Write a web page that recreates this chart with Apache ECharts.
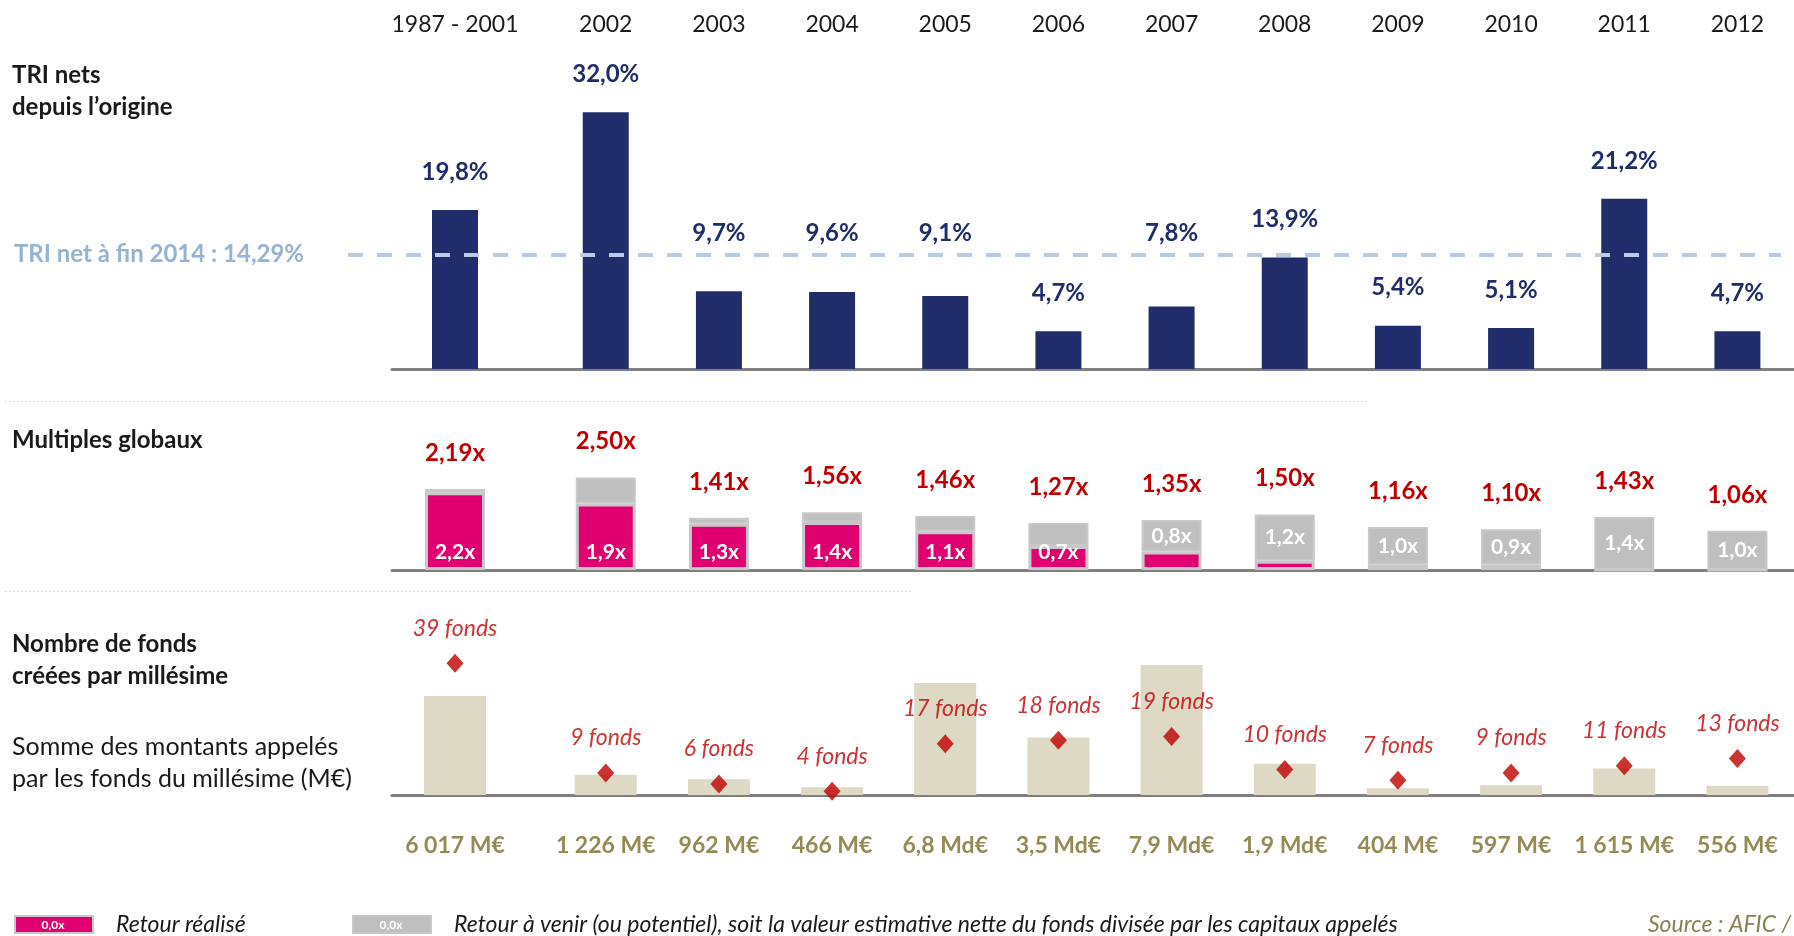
<!DOCTYPE html>
<html>
<head>
<meta charset="utf-8">
<script src="https://cdn.jsdelivr.net/npm/echarts@6/dist/echarts.min.js"></script>
<style>
  html, body { margin: 0; padding: 0; background: #fff; }
  #chart { width: 1794px; height: 936px; }
</style>
</head>
<body>
<div id="chart"></div>
<script>
// données
const millesimes = ['1987 - 2001', '2002', '2003', '2004', '2005', '2006', '2007', '2008', '2009', '2010', '2011', '2012'];
const triNets = [19.8, 32.0, 9.7, 9.6, 9.1, 4.7, 7.8, 13.9, 5.4, 5.1, 21.2, 4.7];
const triNetFin2014 = 14.29;
const multiplesGlobaux = [2.19, 2.50, 1.41, 1.56, 1.46, 1.27, 1.35, 1.50, 1.16, 1.10, 1.43, 1.06];
const retourRealise = [2.10, 1.80, 1.25, 1.30, 1.05, 0.65, 0.50, 0.25, 0.15, 0.15, 0, 0];
const retourAVenir = [0.09, 0.70, 0.16, 0.26, 0.41, 0.62, 0.85, 1.25, 1.01, 0.95, 1.43, 1.06];
const labelsRealise = ['2,2x', '1,9x', '1,3x', '1,4x', '1,1x', '0,7x', '', '', '', '', '', ''];
const labelsAVenir = ['', '', '', '', '', '', '0,8x', '1,2x', '1,0x', '0,9x', '1,4x', '1,0x'];
const nbFonds = [39, 9, 6, 4, 17, 18, 19, 10, 7, 9, 11, 13];
const montants = [6017, 1226, 962, 466, 6800, 3500, 7900, 1900, 404, 597, 1615, 556];
const montantsLabels = ['6 017 M€', '1 226 M€', '962 M€', '466 M€', '6,8 Md€', '3,5 Md€', '7,9 Md€', '1,9 Md€', '404 M€', '597 M€', '1 615 M€', '556 M€'];

const FONT = 'Lato';
const NAVY = '#212d6b';
const RED = '#c00000';
const PINK = '#e1006f';
const GREY = '#bfbfbf';
const BEIGE = '#ddd9c4';
const OLIVE = '#948a54';
const AXIS = '#808080';

// bandes verticales
const row1 = { top: 48, h: 321, max: 40 };
const row2 = { top: 422, h: 148, max: 4 };
const row3 = { top: 630.4, h: 164.6, max: 10000, fMin: 3, fMax: 48 };
// colonne 1987-2001 (A) et colonnes 2002-2012 (B)
const colA = { left: 392, width: 126 };
const colB = { left: 436, width: 1368 };

const catsA = [millesimes[0]];
const catsB = [''].concat(millesimes.slice(1));
function part(arr, p) {
  return p === 0 ? [arr[0]] : [null].concat(arr.slice(1));
}
const fr = (v, d) => v.toFixed(d).replace('.', ',');

let chart = echarts.init(document.getElementById('chart'));

let grids = [], xAxes = [], yAxes = [], series = [];
[row1, row2, row3].forEach(function (r) {
  [colA, colB].forEach(function (c) {
    grids.push({ left: c.left, width: c.width, top: r.top, height: r.h });
  });
});
// grille pour la ligne pointillée
grids.push({ left: 348, width: 1433, top: row1.top, height: row1.h });

function catAxis(gi, p, extra) {
  return Object.assign({
    type: 'category', gridIndex: gi, data: p === 0 ? catsA : catsB,
    axisLine: { show: true, lineStyle: { color: AXIS, width: 3 } },
    axisTick: { show: false }, axisLabel: { show: false }, splitLine: { show: false }
  }, extra || {});
}
const yearLabel = { show: true, interval: 0, margin: 12, fontFamily: FONT, fontSize: 23, color: '#1a1a1a' };
xAxes.push(catAxis(0, 0), catAxis(1, 1));
xAxes.push(catAxis(0, 0, { position: 'top', axisLine: { show: false }, axisLabel: yearLabel }));
xAxes.push(catAxis(1, 1, { position: 'top', axisLine: { show: false }, axisLabel: yearLabel }));
xAxes.push(catAxis(2, 0), catAxis(3, 1), catAxis(4, 0), catAxis(5, 1));
xAxes.push({ type: 'value', gridIndex: 6, min: 0, max: 1, show: false });

function valAxis(gi, min, max) {
  return { type: 'value', gridIndex: gi, min: min, max: max, show: false };
}
yAxes.push(valAxis(0, 0, row1.max), valAxis(1, 0, row1.max));
yAxes.push(valAxis(2, 0, row2.max), valAxis(3, 0, row2.max));
yAxes.push(valAxis(4, 0, row3.max), valAxis(5, 0, row3.max));
yAxes.push(valAxis(4, row3.fMin, row3.fMax), valAxis(5, row3.fMin, row3.fMax));
yAxes.push(valAxis(6, 0, row1.max));

// les étiquettes qui tomberaient sur la ligne pointillée passent au-dessus
const ppu1 = row1.h / row1.max;
function triItem(v) {
  if (v == null) return null;
  let dist = 26;
  let centre = v + (dist + 12) / ppu1;
  if (Math.abs(centre - triNetFin2014) < 2) {
    dist = (triNetFin2014 - v) * ppu1 + 21 - 12;
  }
  return { value: v, label: { distance: dist } };
}

[0, 1].forEach(function (p) {
  // TRI nets
  series.push({
    type: 'bar', xAxisIndex: p, yAxisIndex: p, barWidth: 46,
    data: part(triNets, p).map(triItem),
    itemStyle: { color: NAVY },
    label: { show: true, position: 'top', fontFamily: FONT, fontWeight: 'bold', fontSize: 24, color: NAVY,
      formatter: (d) => fr(d.value, 1) + '%' }
  });
  // multiples : retour réalisé
  series.push({
    name: 'Retour réalisé',
    type: 'bar', xAxisIndex: 4 + p, yAxisIndex: 2 + p, stack: 'm' + p, barWidth: 60,
    data: part(retourRealise, p),
    itemStyle: { color: PINK, borderColor: '#c8c8c8', borderWidth: 3 },
    label: { show: true, position: 'insideBottom', distance: 7, fontFamily: FONT, fontWeight: 'bold',
      fontSize: 21, color: '#fff', formatter: (d) => labelsRealise[d.dataIndex] }
  });
  // multiples : retour à venir
  series.push({
    name: 'Retour à venir (ou potentiel), soit la valeur estimative nette du fonds divisée par les capitaux appelés',
    type: 'bar', xAxisIndex: 4 + p, yAxisIndex: 2 + p, stack: 'm' + p, barWidth: 60,
    data: part(retourAVenir, p),
    itemStyle: { color: GREY, borderColor: '#c8c8c8', borderWidth: 2 },
    label: { show: true, position: 'inside', fontFamily: FONT, fontWeight: 'bold',
      fontSize: 21, color: '#fff', formatter: (d) => labelsAVenir[d.dataIndex] }
  });
  // total des multiples (étiquette au sommet de la pile)
  series.push({
    type: 'bar', xAxisIndex: 4 + p, yAxisIndex: 2 + p, stack: 'm' + p, barWidth: 60,
    data: part(multiplesGlobaux, p).map((v) => (v == null ? null : 0)),
    itemStyle: { color: 'transparent' },
    label: { show: true, position: 'top', distance: 24, fontFamily: FONT, fontWeight: 'bold',
      fontSize: 24, color: RED, formatter: (d) => fr(multiplesGlobaux[d.dataIndex], 2) + 'x' }
  });
  // montants appelés
  series.push({
    type: 'bar', xAxisIndex: 6 + p, yAxisIndex: 4 + p, barWidth: 62,
    data: part(montants, p),
    itemStyle: { color: BEIGE },
    label: { show: true, position: 'bottom', distance: 39, fontFamily: FONT, fontWeight: 'bold',
      fontSize: 23, color: OLIVE, formatter: (d) => montantsLabels[d.dataIndex] }
  });
  // nombre de fonds
  series.push({
    type: 'scatter', xAxisIndex: 6 + p, yAxisIndex: 6 + p, z: 5,
    symbol: 'diamond', symbolSize: [17, 19],
    data: part(nbFonds, p),
    itemStyle: { color: RED },
    label: { show: true, position: 'top', distance: 14, fontFamily: FONT, fontStyle: 'italic',
      fontSize: 23, color: RED, formatter: (d) => d.value + ' fonds' }
  });
});

// TRI net à fin 2014
series.push({
  type: 'line', xAxisIndex: 8, yAxisIndex: 8, z: 10, data: [],
  markLine: {
    silent: true, symbol: 'none',
    lineStyle: { color: '#b8cce4', width: 4, type: [15, 14] },
    label: { position: 'start', distance: 44, fontFamily: FONT, fontWeight: 'bold', fontSize: 24, color: '#95b3d7',
      formatter: (d) => 'TRI net à fin 2014 : ' + fr(d.value, 2) + '%' },
    data: [{ yAxis: triNetFin2014 }]
  }
});

const titleStyle = { fontFamily: FONT, fontWeight: 'bold', fontSize: 24, color: '#1a1a1a', lineHeight: 32 };
const legendBase = {
  top: 913, padding: 0, icon: 'rect', itemWidth: 78, itemHeight: 17,
  itemStyle: { borderColor: '#c8c8c8', borderWidth: 2 },
  textStyle: { fontFamily: FONT, fontStyle: 'italic', fontSize: 23, color: '#1a1a1a', padding: [0, 0, 0, 18] }
};

let option = {
  animation: false,
  title: [
    { text: 'TRI nets\ndepuis l’origine', left: 7, top: 54, textStyle: titleStyle },
    { text: 'Multiples globaux', left: 7, top: 419, textStyle: titleStyle },
    { text: 'Nombre de fonds\ncréées par millésime', left: 7, top: 623, textStyle: titleStyle },
    { text: 'Somme des montants appelés\npar les fonds du millésime (M€)', left: 7, top: 726,
      textStyle: Object.assign({}, titleStyle, { fontWeight: 'normal', fontSize: 25 }) }
  ],
  legend: [
    Object.assign({ data: ['Retour réalisé'], left: 14 }, legendBase),
    Object.assign({ data: ['Retour à venir (ou potentiel), soit la valeur estimative nette du fonds divisée par les capitaux appelés'],
      left: 352 }, legendBase)
  ],
  grid: grids,
  xAxis: xAxes,
  yAxis: yAxes,
  series: series,
  graphic: [
    { type: 'line', shape: { x1: 5, y1: 401.5, x2: 1367, y2: 401.5 }, silent: true, z: 100,
      style: { stroke: '#d9d9d9', lineWidth: 1, lineDash: [2, 2] } },
    { type: 'line', shape: { x1: 5, y1: 591.5, x2: 912, y2: 591.5 }, silent: true, z: 100,
      style: { stroke: '#d9d9d9', lineWidth: 1, lineDash: [2, 2] } },
    { type: 'text', x: 53, y: 925, silent: true, z: 100,
      style: { text: '0,0x', fill: '#fff', font: 'bold 12px Lato', align: 'center', verticalAlign: 'middle' } },
    { type: 'text', x: 391, y: 925, silent: true, z: 100,
      style: { text: '0,0x', fill: '#fff', font: 'bold 12px Lato', align: 'center', verticalAlign: 'middle' } },
    { type: 'text', x: 1648, y: 925, silent: true, z: 100,
      style: { text: 'Source : AFIC /', fill: '#8a8050', font: 'italic 23px Lato', verticalAlign: 'middle' } }
  ]
};
chart.setOption(option);
</script>
</body>
</html>
